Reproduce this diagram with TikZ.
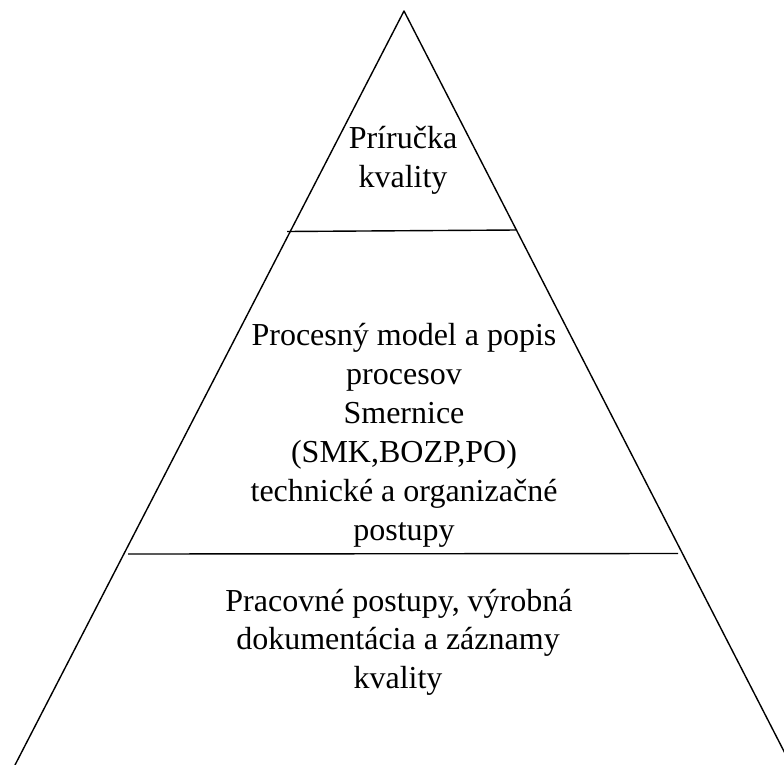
\documentclass[tikz,border=0pt]{standalone}
\usepackage{fontspec}
\setmainfont{Liberation Serif}
\begin{document}
\begin{tikzpicture}[x=1pt,y=-1pt,
  edge/.style={line width=1.4pt,draw=black},
  lbl/.style={anchor=base,inner sep=0pt,font=\fontsize{32}{38}\selectfont,text=black}]
\useasboundingbox (0,0) rectangle (784,765);
\clip (0,0) rectangle (784,765);
% pyramid outline
\coordinate (apex) at (404,11);
\coordinate (bl) at (15,765);
\coordinate (br) at (791,765);
\draw[edge,line join=round] (bl) -- (apex) -- (br);
% level dividers
\coordinate (d1l) at (287,231.5);
\coordinate (d1r) at (517,230);
\coordinate (d2l) at (128,554);
\coordinate (d2r) at (678,553.5);
\draw[edge] (d1l) -- (d1r);
\draw[edge] (d2l) -- (d2r);
% top level
\node[lbl] (t1) at (403,148) {Príručka};
\node[lbl] (t2) at (403,187) {kvality};
% middle level
\node[lbl] (m1) at (404,345) {Procesný model a popis};
\node[lbl] (m2) at (404,384) {procesov};
\node[lbl] (m3) at (404,423) {Smernice};
\node[lbl] (m4) at (404,462) {(SMK,BOZP,PO)};
\node[lbl] (m5) at (404,501) {technické a organizačné};
\node[lbl] (m6) at (404,540) {postupy};
% bottom level
\node[lbl] (b1) at (399,611) {Pracovné postupy, výrobná};
\node[lbl] (b2) at (398,649.5) {dokumentácia a záznamy};
\node[lbl] (b3) at (398,688) {kvality};
\end{tikzpicture}
\end{document}
